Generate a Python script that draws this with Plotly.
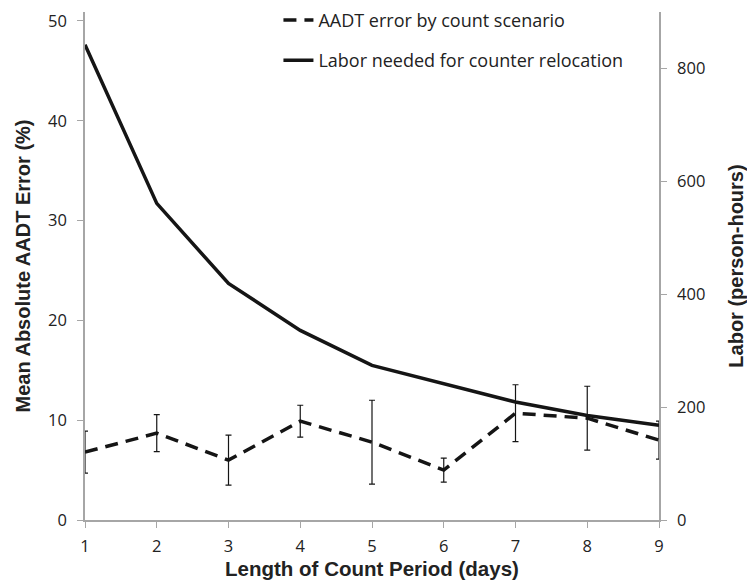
import plotly.graph_objects as go

days = [1, 2, 3, 4, 5, 6, 7, 8, 9]
aadt_error = [6.8, 8.7, 6.0, 9.9, 7.8, 5.0, 10.7, 10.2, 8.0]
aadt_err_bar = [2.1, 1.85, 2.5, 1.6, 4.2, 1.2, 2.85, 3.2, 1.9]
labor = [842, 561, 419, 336, 274, 241, 209, 185, 168]

left_ticks = [0, 10, 20, 30, 40, 50]
right_ticks = [0, 200, 400, 600, 800]

fig = go.Figure()
fig.add_trace(go.Scatter(
    x=days, y=aadt_error, name="AADT error by count scenario",
    mode="lines", line=dict(color="#151515", width=3.5, dash="13px,8px"),
    error_y=dict(type="data", array=aadt_err_bar, visible=True,
                 color="#151515", thickness=1.2, width=3),
    legendgroup="a", yaxis="y"))
fig.add_trace(go.Scatter(
    x=days, y=labor, name="Labor needed for counter relocation",
    mode="lines", line=dict(color="#151515", width=3.5),
    legendgroup="b", yaxis="y2"))

axis_font = dict(family="Open Sans", size=16.5, color="#222222")
title_font = dict(family="Liberation Sans", size=20, color="#222222")

fig.update_layout(
    width=747, height=588,
    margin=dict(l=85, r=88, t=12, b=68, autoexpand=False),
    paper_bgcolor="white", plot_bgcolor="white",
    showlegend=True,
    legend=dict(x=0.337, y=0.997, xanchor="left", yanchor="top",
                yref="container",
                font=dict(family="Open Sans", size=18, color="#222222"),
                bgcolor="rgba(0,0,0,0)", tracegroupgap=14,
                itemwidth=30),
    xaxis=dict(range=[1, 9], tickvals=days, showgrid=False, zeroline=False,
               showline=True, linecolor="#a6a6a6", linewidth=1.5,
               ticks="outside", ticklen=6, tickcolor="#a6a6a6",
               tickfont=axis_font, ticklabelstandoff=4, automargin=False,
               title=dict(text="<b>Length of Count Period (days)</b>",
                          font=dict(family="Liberation Sans", size=20.5,
                                    color="#222222"), standoff=6)),
    yaxis=dict(range=[0, 50.9], tickvals=left_ticks, showgrid=False,
               zeroline=False, showline=True, linecolor="#a6a6a6",
               linewidth=1.5, ticks="outside", ticklen=6, tickcolor="#a6a6a6",
               tickfont=axis_font, ticklabelstandoff=7, automargin=False,
               title=dict(text="<b>Mean Absolute AADT Error (%)</b>",
                          font=title_font, standoff=12)),
    yaxis2=dict(range=[0, 900], tickvals=right_ticks, overlaying="y",
                side="right", showgrid=False, zeroline=False, showline=True,
                linecolor="#a6a6a6", linewidth=1.5, ticks="outside",
                ticklen=6, tickcolor="#a6a6a6", tickfont=axis_font,
                ticklabelstandoff=7, automargin=False,
                title=dict(text="<b>Labor (person-hours)</b>",
                           font=title_font, standoff=26)),
)

fig.write_html("out.html", config={"displayModeBar": False},
               post_script="document.body.style.margin='0';")
